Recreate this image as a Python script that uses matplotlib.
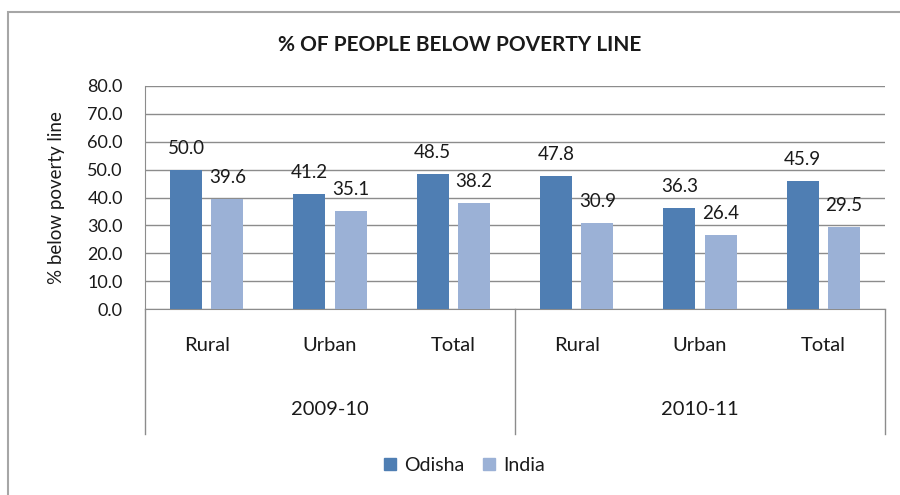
import matplotlib
matplotlib.use('Agg')
import matplotlib.pyplot as plt
import numpy as np
from matplotlib.patches import Rectangle, Patch

# Poverty figures by area and year
years = ['2009-10', '2010-11']
areas = ['Rural', 'Urban', 'Total']
odisha = [50.0, 41.2, 48.5, 47.8, 36.3, 45.9]
india = [39.6, 35.1, 38.2, 30.9, 26.4, 29.5]

plt.rcParams['font.family'] = ['Lato', 'DejaVu Sans']

c_odisha = '#4F7EB3'
c_india = '#9BB1D6'
grid_c = '#8C8C8C'
txt_c = '#1A1A1A'

fig = plt.figure(figsize=(9, 4.95), dpi=100)
ax = fig.add_axes([145 / 900, 1 - 309 / 495, 740 / 900, 223 / 495])

x = np.arange(len(odisha))
w = 0.26
off = 0.167
b1 = ax.bar(x - off, odisha, w, color=c_odisha, zorder=3)
b2 = ax.bar(x + off, india, w, color=c_india, zorder=3)

for bars, vals in [(b1, odisha), (b2, india)]:
    for rect, v in zip(bars, vals):
        ax.annotate(f'{v:.1f}', (rect.get_x() + rect.get_width() / 2, v),
                    xytext=(0, 11.5), textcoords='offset points', ha='center',
                    va='baseline', fontsize=13.5, color=txt_c)

ax.set_xlim(-0.5, len(odisha) - 0.5)
ax.set_ylim(0, 80)
ax.set_yticks(np.arange(0, 81, 10))
ax.set_yticklabels([f'{t:.1f}' for t in np.arange(0, 81, 10)], fontsize=13, color=txt_c)
ax.tick_params(axis='y', length=0, pad=16)
ax.set_xticks([])
ax.yaxis.grid(True, color=grid_c, lw=1)
ax.set_axisbelow(True)
for s in ['top', 'right']:
    ax.spines[s].set_visible(False)
ax.spines['left'].set_color(grid_c)
ax.spines['bottom'].set_color(grid_c)
ax.set_ylabel('% below poverty line', fontsize=13.5, labelpad=16, color=txt_c)

# Two-level category axis
trans = ax.get_xaxis_transform()
for i, lab in enumerate(areas * len(years)):
    ax.text(i, -0.165, lab, transform=trans, ha='center', va='center',
            fontsize=14.5, color=txt_c)
for j, yr in enumerate(years):
    ax.text(j * 3 + 1, -0.45, yr, transform=trans, ha='center', va='center',
            fontsize=14.5, color=txt_c)
for xv in [-0.5, 2.5, 5.5]:
    ax.plot([xv, xv], [0, -0.56], transform=trans, color=grid_c, lw=1, clip_on=False)

fig.text(0.511, 0.909, '% OF PEOPLE BELOW POVERTY LINE', ha='center', va='center',
         fontsize=15, fontweight='bold', color=txt_c)

handles = [Patch(color=c_odisha, label='Odisha'), Patch(color=c_india, label='India')]
leg = fig.legend(handles=handles, loc='center', bbox_to_anchor=(0.516, 0.06), ncol=2,
                 frameon=False, fontsize=14, handlelength=0.6, handleheight=0.6,
                 handletextpad=0.4, columnspacing=1.0)
for t in leg.get_texts():
    t.set_color(txt_c)

fig.patches.append(Rectangle((8 / 900, -0.05), 1.2, 1 - 12 / 495 + 0.05,
                             transform=fig.transFigure, fill=False,
                             edgecolor='#A6A6A6', lw=1.5))

fig.savefig('out.png', dpi=100)
